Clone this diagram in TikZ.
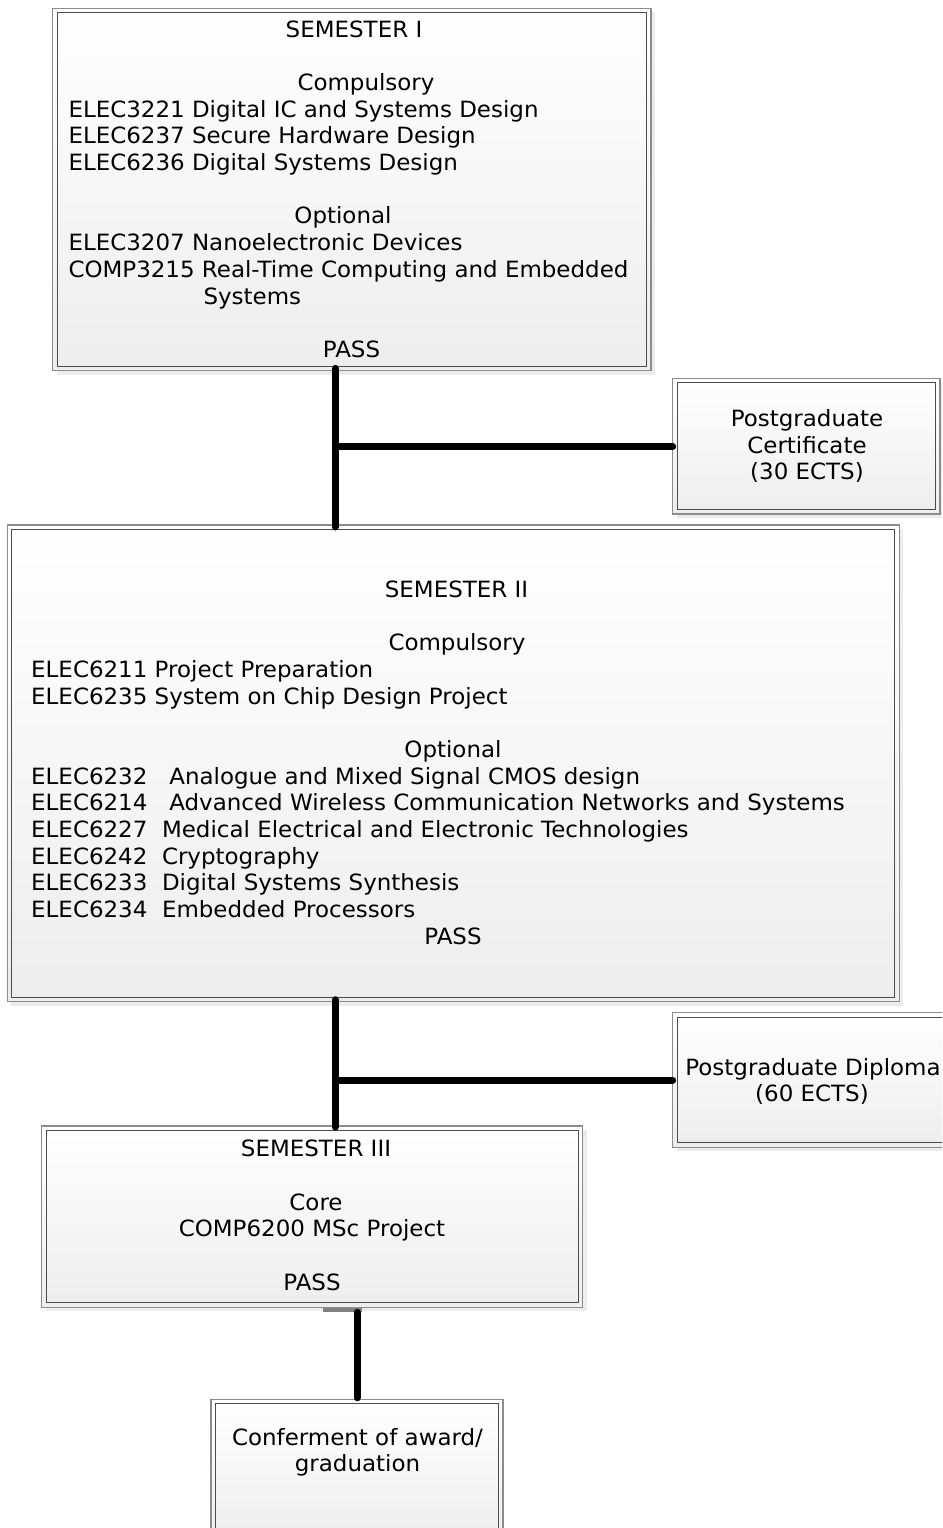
\documentclass[tikz,border=0pt]{standalone}
\usepackage{fontspec}
\setmainfont{DejaVu Sans}[FakeStretch=1.025]
\begin{document}
\begin{tikzpicture}[x=1pt,y=-1pt,
  box/.style={draw=gray!90, line width=1.2pt, top color=white, bottom color=gray!14, inner sep=0pt, outer sep=0pt},
  innerbox/.style={draw=black!70, line width=1.2pt},
  shadowbox/.style={fill=gray!15},
  conn/.style={line width=7pt, line cap=round},
  txt/.style={font=\fontsize{22.4}{26.7}\selectfont, inner sep=0pt, anchor=base},
  ltxt/.style={txt, anchor=base west}]
\useasboundingbox (0,0) rectangle (942,1528);
\fill[white] (0,0) rectangle (942,1528);
\clip (0,0) rectangle (942,1528);

% shadows
\fill[shadowbox] (56.7,12.3) rectangle (655,374.7);
\fill[shadowbox] (676.7,382.3) rectangle (944,518);
\fill[shadowbox] (11.3,529) rectangle (903.3,1005.7);
\fill[shadowbox] (676.7,1016.7) rectangle (953,1151.3);
\fill[shadowbox] (45.7,1130) rectangle (586.7,1311.3);

% boxes
\node[box, minimum width=598.3pt, minimum height=362.4pt] (b1) at (351.85,189.5) {};
\node[box, minimum width=267.3pt, minimum height=135.7pt] (cert) at (806.35,446.15) {};
\node[box, minimum width=892pt, minimum height=476.7pt] (b2) at (453.3,763.35) {};
\node[box, minimum width=276.3pt, minimum height=134.6pt] (dip) at (810.85,1080) {};
\node[box, minimum width=541pt, minimum height=181.3pt] (b3) at (312.2,1216.65) {};
\node[box, minimum width=292pt, minimum height=145.7pt] (b4) at (357,1472.15) {};
\foreach \b in {b1,cert,b2,dip,b3,b4}{
  \draw[innerbox] ([xshift=4.5pt,yshift=-4.5pt]\b.north west) rectangle ([xshift=-4.5pt,yshift=4.5pt]\b.south east);
}

% connectors
\coordinate (j1) at (335.3,446.7);
\coordinate (j2) at (335.3,1080);
\coordinate (j3) at (357,1300);
\draw[conn, shorten <=-2.3pt, shorten >=-2pt] (b1.south -| j1) -- (b2.north -| j1);
\draw[conn] (j1) -- (cert.west |- j1);
\draw[conn, shorten <=-2pt, shorten >=-1pt] (b2.south -| j2) -- (b3.north -| j2);
\draw[conn] (j2) -- (dip.west |- j2);
\fill[gray] (322.7,1307.5) rectangle (361.7,1312);
\draw[conn, shorten <=5pt, shorten >=1.5pt] (b3.south -| j3) -- (b4.north -| j3);

% box 1 text
\node[txt] (t1a) at (354,37.1) {SEMESTER I};
\node[txt] (t1b) at (366,90.5) {Compulsory};
\node[ltxt] (t1c) at (68.3,117.2) {ELEC3221 Digital IC and Systems Design};
\node[ltxt] (t1d) at (68.3,143.9) {ELEC6237 Secure Hardware Design};
\node[ltxt] (t1e) at (68.3,170.6) {ELEC6236 Digital Systems Design};
\node[txt] (t1f) at (343,223.9) {Optional};
\node[ltxt] (t1g) at (68.3,250.6) {ELEC3207 Nanoelectronic Devices};
\node[ltxt] (t1h) at (68.3,277.3) {COMP3215 Real-Time Computing and Embedded};
\node[ltxt] (t1i) at (203.3,304) {Systems};
\node[txt] (t1j) at (351.5,357.4) {PASS};

% certificate text
\node[txt] (tc1) at (807,426.5) {Postgraduate};
\node[txt] (tc2) at (807,453.2) {Certificate};
\node[txt] (tc3) at (807,479.9) {(30 ECTS)};

% box 2 text
\node[txt] (t2a) at (456.5,597.2) {SEMESTER II};
\node[txt] (t2b) at (457,650.6) {Compulsory};
\node[ltxt] (t2c) at (31,677.3) {ELEC6211 Project Preparation};
\node[ltxt] (t2d) at (31,704.0) {ELEC6235 System on Chip Design Project};
\node[txt] (t2e) at (453,757.4) {Optional};
\node[ltxt] (t2f) at (31,784.1) {ELEC6232~~ Analogue and Mixed Signal CMOS design};
\node[ltxt] (t2g) at (31,810.8) {ELEC6214~~ Advanced Wireless Communication Networks and Systems};
\node[ltxt] (t2h) at (31,837.5) {ELEC6227~ Medical Electrical and Electronic Technologies};
\node[ltxt] (t2i) at (31,864.2) {ELEC6242~ Cryptography};
\node[ltxt] (t2j) at (31,890.9) {ELEC6233~ Digital Systems Synthesis};
\node[ltxt] (t2k) at (31,917.6) {ELEC6234~ Embedded Processors};
\node[txt] (t2l) at (453,944.3) {PASS};

% diploma text
\node[txt] (td1) at (813,1075) {Postgraduate Diploma};
\node[txt] (td2) at (812,1101.7) {(60 ECTS)};

% box 3 text
\node[txt] (t3a) at (316,1156.7) {SEMESTER III};
\node[txt] (t3b) at (316,1210.1) {Core};
\node[txt] (t3c) at (312,1236.8) {COMP6200 MSc Project};
\node[txt] (t3d) at (312,1290.2) {PASS};

% box 4 text
\node[txt] (t4a) at (357.5,1445) {Conferment of award/};
\node[txt] (t4b) at (357.5,1471.7) {graduation};
\end{tikzpicture}
\end{document}
